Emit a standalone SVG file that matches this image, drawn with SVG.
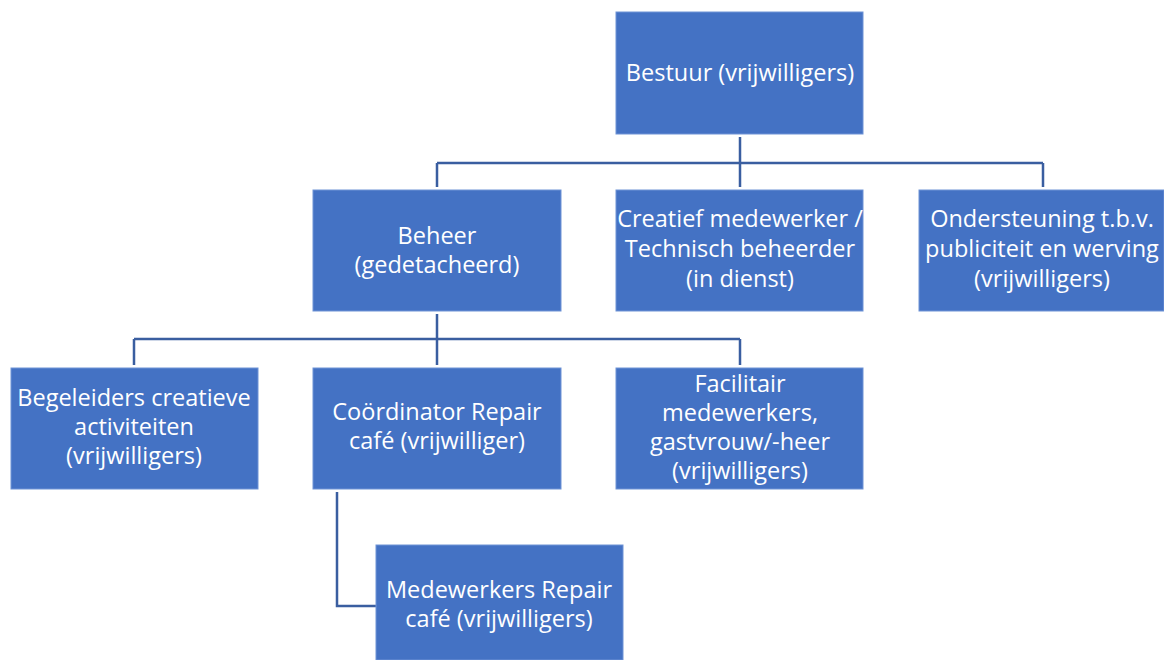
<svg xmlns="http://www.w3.org/2000/svg" width="1164" height="660" viewBox="0 0 1164 660">
<style>
.box{fill:#4472C4;stroke:#6E93D6;stroke-width:1}
.lbl{font-family:"Open Sans",Lato,"Liberation Sans",sans-serif;font-size:23.5px;fill:#FFFFFF;text-anchor:middle}
.conn{fill:none;stroke:#3A5EA0;stroke-width:2.5}
</style>
<rect width="1164" height="660" fill="#FFFFFF"/>
<g id="connectors">
<path class="conn" d="M740 137V163M437 163H1043M437 163V187M740 163V187M1043 163V187"/>
<path class="conn" d="M437 314V339M134 339H740M134 339V365M437 339V365M740 339V365"/>
<path class="conn" d="M337 492V606H376"/>
</g>
<g id="bestuur"><rect class="box" x="616" y="12" width="247" height="122"/><text class="lbl" x="740" y="81">Bestuur (vrijwilligers)</text></g>
<g id="beheer"><rect class="box" x="313" y="190" width="248" height="121"/><text class="lbl" x="437" y="244">Beheer</text><text class="lbl" x="437" y="273">(gedetacheerd)</text></g>
<g id="creatief"><rect class="box" x="616" y="190" width="247" height="121"/><text class="lbl" x="740" y="227">Creatief medewerker /</text><text class="lbl" x="740" y="257">Technisch beheerder</text><text class="lbl" x="740" y="287">(in dienst)</text></g>
<g id="ondersteuning"><rect class="box" x="919" y="190" width="245" height="121"/><text class="lbl" x="1042" y="227">Ondersteuning t.b.v.</text><text class="lbl" x="1042" y="257">publiciteit en werving</text><text class="lbl" x="1042" y="287">(vrijwilligers)</text></g>
<g id="begeleiders"><rect class="box" x="11" y="368" width="247" height="121"/><text class="lbl" x="134" y="406">Begeleiders creatieve</text><text class="lbl" x="134" y="435">activiteiten</text><text class="lbl" x="134" y="464">(vrijwilligers)</text></g>
<g id="coordinator"><rect class="box" x="313" y="368" width="248" height="121"/><text class="lbl" x="437" y="420">Coördinator Repair</text><text class="lbl" x="437" y="449">café (vrijwilliger)</text></g>
<g id="facilitair"><rect class="box" x="616" y="368" width="247" height="121"/><text class="lbl" x="740" y="392">Facilitair</text><text class="lbl" x="740" y="421">medewerkers,</text><text class="lbl" x="740" y="450">gastvrouw/-heer</text><text class="lbl" x="740" y="479">(vrijwilligers)</text></g>
<g id="medewerkers"><rect class="box" x="376" y="545" width="247" height="115"/><text class="lbl" x="499" y="598">Medewerkers Repair</text><text class="lbl" x="499" y="627">café (vrijwilligers)</text></g>
</svg>
